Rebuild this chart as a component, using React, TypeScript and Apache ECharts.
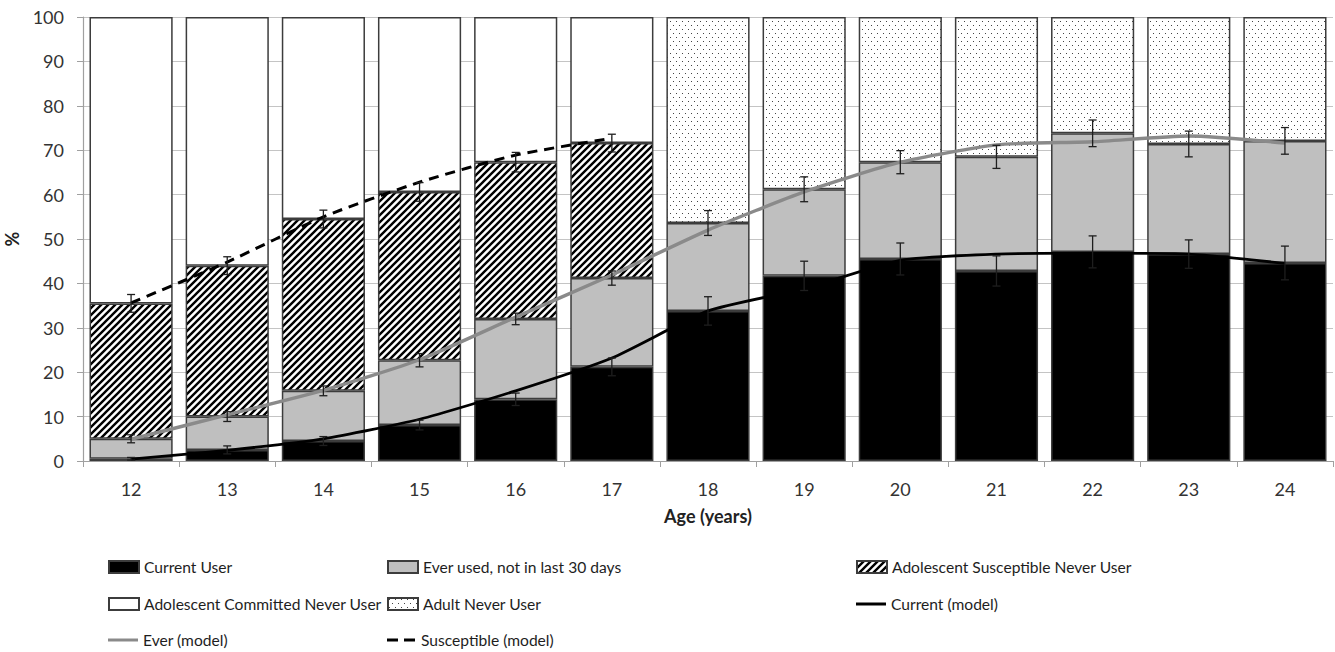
import React, { useEffect, useRef } from "react";
import * as echarts from "echarts";

const ages = ["12", "13", "14", "15", "16", "17", "18", "19", "20", "21", "22", "23", "24"];

// stacked segment values (%)
const currentUser = [0.5, 2.5, 4.5, 8.1, 13.9, 21.2, 33.8, 41.7, 45.5, 42.8, 47.1, 46.6, 44.6];
const everUsed = [4.5, 7.5, 11.3, 14.6, 18.1, 20.0, 19.8, 19.5, 21.8, 25.7, 26.7, 24.8, 27.5];
const adolSusceptible = [30.5, 34.0, 38.7, 37.9, 35.3, 30.4, null, null, null, null, null, null, null];
const adolCommitted = [64.5, 56.0, 45.5, 39.4, 32.7, 28.4, null, null, null, null, null, null, null];
const adultNever = [null, null, null, null, null, null, 46.4, 38.8, 32.7, 31.5, 26.2, 28.6, 27.9];

// error bar half-widths at the top of each segment
const errCurrent = [0.3, 0.9, 1.0, 1.1, 1.4, 2.0, 3.2, 3.3, 3.6, 3.4, 3.6, 3.2, 3.8];
const errEver = [0.9, 1.1, 1.1, 1.5, 1.3, 1.6, 2.8, 2.8, 2.6, 2.6, 3.0, 2.9, 3.0];
const errSusceptible = [2.0, 2.0, 2.0, 2.1, 2.2, 2.0];

// model lines
const currentModel = [0.4, 2.4, 5.0, 9.4, 15.8, 23.2, 33.8, 38.8, 45.2, 46.6, 46.8, 46.6, 44.5];
const everModel = [4.9, 10.4, 15.9, 22.8, 32.4, 41.9, 52.0, 60.6, 67.3, 71.2, 71.9, 73.2, 71.6];
const susceptibleModel = [35.6, 44.8, 55.0, 62.8, 68.9, 72.7, null, null, null, null, null, null, null];

const yTicks = { min: 0, max: 100, interval: 10 };

const FONT = "Lato";

function makeHatch(): string {
  const s = 7;
  const c = document.createElement("canvas");
  c.width = s;
  c.height = s;
  const g = c.getContext("2d")!;
  g.fillStyle = "#fff";
  g.fillRect(0, 0, s, s);
  g.strokeStyle = "#000";
  g.lineWidth = 2.4;
  g.beginPath();
  for (const k of [-s, 0, s]) {
    g.moveTo(k - 1, s + 1);
    g.lineTo(k + s + 1, -1);
  }
  g.stroke();
  return c.toDataURL();
}

function makeDots(): string {
  const c = document.createElement("canvas");
  c.width = 6;
  c.height = 8;
  const g = c.getContext("2d")!;
  g.fillStyle = "#fff";
  g.fillRect(0, 0, 6, 8);
  g.fillStyle = "#444";
  g.fillRect(1, 1, 1, 1);
  g.fillRect(4, 5, 1, 1);
  return c.toDataURL();
}

export default function App() {
  const ref = useRef<HTMLDivElement>(null);
  useEffect(() => {
    if (!ref.current) return;
    const chart = echarts.init(ref.current, undefined, { renderer: "svg" });
    const hatch = { image: makeHatch(), repeat: "repeat", imageWidth: 7, imageHeight: 7 };
    const dots = { image: makeDots(), repeat: "repeat", imageWidth: 6, imageHeight: 8 };

    const border = { borderColor: "#3c3c3c", borderWidth: 1.5 };

    const errData: number[][] = [];
    ages.forEach((_, i) => {
      const cTop = currentUser[i];
      errData.push([i, cTop - errCurrent[i], cTop + errCurrent[i]]);
      const eTop = cTop + everUsed[i];
      errData.push([i, eTop - errEver[i], eTop + errEver[i]]);
      if (i < errSusceptible.length && adolSusceptible[i] != null) {
        const sTop = eTop + (adolSusceptible[i] as number);
        errData.push([i, sTop - errSusceptible[i], sTop + errSusceptible[i]]);
      }
    });

    const colX = [108, 387, 856];
    const rowTop = [558, 595, 631];
    const mkLegend = (name: string, col: number, row: number, icon?: string, h = 12) => ({
      left: colX[col],
      top: rowTop[row],
      itemWidth: 30,
      itemHeight: h,
      padding: 0,
      selectedMode: false,
      textStyle: { fontFamily: FONT, fontSize: 15.6, color: "#1e1e1e", lineHeight: 18 },
      data: [icon ? { name, icon } : { name }],
    });

    const option: any = {
      animation: false,
      backgroundColor: "#fff",
      grid: { left: 83, right: 2, top: 17, bottom: 191, containLabel: false, outerBoundsMode: "none" },
      legend: [
        mkLegend("Current User", 0, 0, "rect"),
        mkLegend("Ever used, not in last 30 days", 1, 0, "rect"),
        mkLegend("Adolescent Susceptible Never User", 2, 0, "rect"),
        mkLegend("Adolescent Committed Never User", 0, 1, "rect"),
        mkLegend("Adult Never User", 1, 1, "rect"),
        mkLegend("Current (model)", 2, 1, "rect", 3),
        mkLegend("Ever (model)", 0, 2, "rect", 3),
        mkLegend("Susceptible (model)", 1, 2, "path://M0 0H11V3H0Z M17 0H28V3H17Z", 3),
      ],
      xAxis: {
        type: "category",
        data: ages,
        boundaryGap: true,
        axisLine: { show: true, lineStyle: { color: "#a0a0a0", width: 1.2 } },
        axisTick: { show: true, length: 6, lineStyle: { color: "#a0a0a0" } },
        axisLabel: { fontFamily: FONT, fontSize: 18, color: "#333", margin: 19 },
        name: "Age (years)",
        nameLocation: "middle",
        nameGap: 46,
        nameTextStyle: { fontFamily: FONT, fontSize: 18, fontWeight: "bold", color: "#222" },
      },
      yAxis: {
        type: "value",
        min: yTicks.min,
        max: yTicks.max,
        interval: yTicks.interval,
        axisLine: { show: true, lineStyle: { color: "#a0a0a0", width: 1.2 } },
        axisTick: { show: true, length: 6, lineStyle: { color: "#a0a0a0" } },
        splitLine: { show: true, lineStyle: { color: "#c4c4c4", width: 1.2 } },
        axisLabel: { fontFamily: FONT, fontSize: 18, color: "#333", margin: 19 },
        name: "%",
        nameLocation: "middle",
        nameRotate: 90,
        nameGap: 62,
        nameTextStyle: { fontFamily: FONT, fontSize: 18, fontWeight: "bold", color: "#222" },
      },
      series: [
        {
          name: "Current User",
          type: "bar",
          stack: "total",
          barCategoryGap: "13.5%",
          data: currentUser,
          itemStyle: { color: "#000", ...border },
          z: 2,
        },
        {
          name: "Ever used, not in last 30 days",
          type: "bar",
          stack: "total",
          data: everUsed,
          itemStyle: { color: "#bfbfbf", ...border },
          z: 2,
        },
        {
          name: "Adolescent Susceptible Never User",
          type: "bar",
          stack: "total",
          data: adolSusceptible,
          itemStyle: { color: hatch, ...border },
          z: 2,
        },
        {
          name: "Adolescent Committed Never User",
          type: "bar",
          stack: "total",
          data: adolCommitted,
          itemStyle: { color: "#fff", ...border },
          z: 2,
        },
        {
          name: "Adult Never User",
          type: "bar",
          stack: "total",
          data: adultNever,
          itemStyle: { color: dots, ...border },
          z: 2,
        },
        {
          name: "Current (model)",
          type: "line",
          data: currentModel,
          symbol: "none",
          smooth: 0.2,
          lineStyle: { color: "#000", width: 2.8 },
          itemStyle: { color: "#000" },
          z: 4,
        },
        {
          name: "Ever (model)",
          type: "line",
          data: everModel,
          symbol: "none",
          smooth: 0.2,
          lineStyle: { color: "#8a8a8a", width: 3.4 },
          itemStyle: { color: "#8a8a8a" },
          z: 4,
        },
        {
          name: "Susceptible (model)",
          type: "line",
          data: susceptibleModel,
          symbol: "none",
          smooth: 0.2,
          lineStyle: { color: "#000", width: 3, type: [10, 7] },
          itemStyle: { color: "#000" },
          z: 4,
        },
        {
          name: "errors",
          type: "custom",
          data: errData,
          encode: { x: 0, y: [1, 2] },
          z: 5,
          silent: true,
          renderItem: (params: any, api: any) => {
            const i = api.value(0);
            const lo = api.coord([i, api.value(1)]);
            const hi = api.coord([i, api.value(2)]);
            const w = 4;
            const st = { stroke: "#1e1e1e", lineWidth: 1.3 };
            return {
              type: "group",
              children: [
                { type: "line", shape: { x1: lo[0], y1: lo[1], x2: hi[0], y2: hi[1] }, style: st },
                { type: "line", shape: { x1: lo[0] - w, y1: lo[1], x2: lo[0] + w, y2: lo[1] }, style: st },
                { type: "line", shape: { x1: hi[0] - w, y1: hi[1], x2: hi[0] + w, y2: hi[1] }, style: st },
              ],
            };
          },
        },
      ],
    };
    chart.setOption(option);
    return () => chart.dispose();
  }, []);
  return (
    <div
      ref={ref}
      style={{ position: "fixed", left: 0, top: 0, width: 1335, height: 652, background: "#fff" }}
    />
  );
}
